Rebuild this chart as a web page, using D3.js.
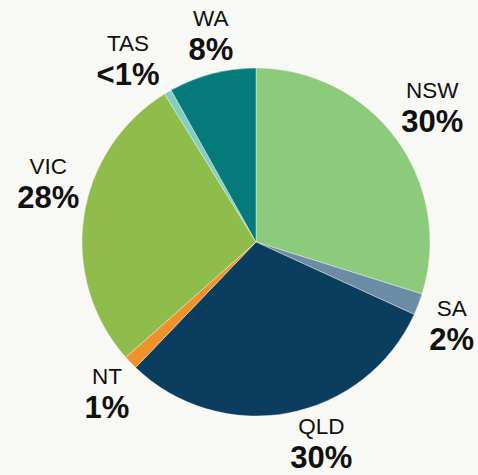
<!DOCTYPE html>
<html lang="en">
<head>
<meta charset="UTF-8">
<title>State share pie</title>
<script src="https://cdn.jsdelivr.net/npm/d3@7"></script>
<style>
  html, body { margin: 0; padding: 0; background: #f8f8f4; }
  svg { display: block; font-family: "Liberation Sans", Arial, sans-serif; }
</style>
</head>
<body>
<div id="chart"></div>
<script>
// data, clockwise from 12 o'clock
const states = ["NSW", "SA", "QLD", "NT", "VIC", "TAS", "WA"];
const shares = [29.8, 2.0, 30.3, 1.3, 27.7, 0.7, 8.1];
const shareLabels = ["30%", "2%", "30%", "1%", "28%", "<1%", "8%"];
const colours = ["#8dcb7c", "#6c8ba5", "#0a3d5e", "#f0912a", "#8fbd4c", "#82cfc2", "#047a7b"];

const width = 478, height = 475;
const cx = 256, cy = 242, radius = 174;

// hand nudges for label blocks, relative to an outer centroid
const nudge = {
  NSW: [3, 0], SA: [-5, 14], QLD: [25, -2], NT: [6, 10],
  VIC: [5, -20], TAS: [-19, 11], WA: [9, 9]
};

const svg = d3.select("#chart").append("svg")
    .attr("width", width)
    .attr("height", height);

svg.append("rect")
    .attr("width", width)
    .attr("height", height)
    .attr("fill", "#f8f8f4");

const g = svg.append("g")
    .attr("transform", `translate(${cx},${cy})`);

const data = states.map((s, i) => ({ state: s, value: shares[i], label: shareLabels[i], colour: colours[i] }));

const pie = d3.pie()
    .sort(null)
    .value(d => d.value);

const arc = d3.arc()
    .innerRadius(0)
    .outerRadius(radius);

const labelArc = d3.arc()
    .innerRadius(215)
    .outerRadius(215);

const arcs = pie(data);

g.selectAll("path.slice")
  .data(arcs)
  .enter()
  .append("path")
    .attr("class", "slice")
    .attr("d", arc)
    .attr("fill", d => d.data.colour)
    .attr("stroke", "#f8f8f4")
    .attr("stroke-width", 0.4);

const labels = g.selectAll("g.label")
  .data(arcs)
  .enter()
  .append("g")
    .attr("class", "label")
    .attr("transform", d => {
      const c = labelArc.centroid(d);
      const n = nudge[d.data.state];
      return `translate(${c[0] + n[0]},${c[1] + n[1]})`;
    });

labels.append("text")
    .attr("text-anchor", "middle")
    .attr("y", -17)
    .style("font-size", "22.5px")
    .attr("fill", "#111")
    .text(d => d.data.state);

labels.append("text")
    .attr("text-anchor", "middle")
    .attr("y", 17)
    .style("font-size", "31px")
    .style("font-weight", "bold")
    .attr("fill", "#111")
    .text(d => d.data.label);
</script>
</body>
</html>
